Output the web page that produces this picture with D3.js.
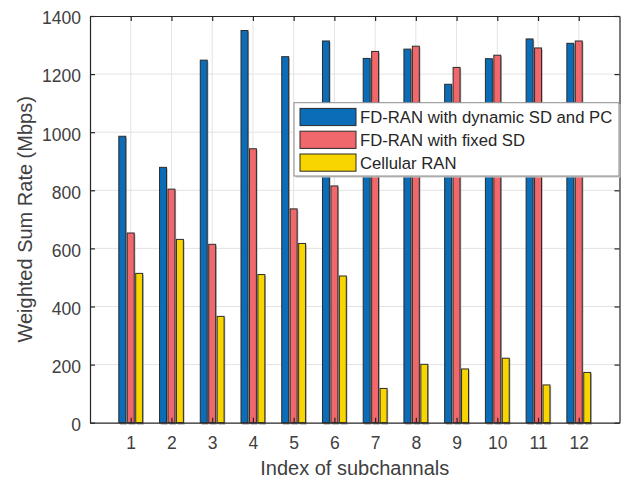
<!DOCTYPE html>
<html>
<head>
<meta charset="utf-8">
<script src="https://cdn.jsdelivr.net/npm/d3@7/dist/d3.min.js"></script>
<style>
  html, body { margin: 0; padding: 0; background: #fff; }
  svg { display: block; font-family: "Liberation Sans", Arial, sans-serif; }
</style>
</head>
<body>
<div id="chart"></div>
<script>
// data
const subchannels = [1, 2, 3, 4, 5, 6, 7, 8, 9, 10, 11, 12];
const seriesNames = ["FD-RAN with dynamic SD and PC", "FD-RAN with fixed SD", "Cellular RAN"];
const dynamicSdPc = [986, 879, 1248, 1350, 1260, 1314, 1254, 1286, 1165, 1253, 1321, 1306];
const fixedSd = [653, 804, 614, 943, 736, 815, 1278, 1296, 1223, 1265, 1290, 1314];
const cellular = [514, 631, 366, 510, 617, 505, 118, 201, 185, 222, 130, 173];
const yTicks = [0, 200, 400, 600, 800, 1000, 1200, 1400];

const colors = ["#0b6db7", "#f0686b", "#f9d500"];
const allSeries = [dynamicSdPc, fixedSd, cellular];

const width = 624, height = 481;
const margin = { top: 16, right: 4.5, bottom: 58.3, left: 90 };
const innerW = width - margin.left - margin.right;
const innerH = height - margin.top - margin.bottom;

const svg = d3.select("#chart").append("svg")
    .attr("width", width)
    .attr("height", height);

const g = svg.append("g").attr("transform", `translate(${margin.left},${margin.top})`);

const x = d3.scaleLinear().domain([0, 13]).range([0, innerW]);
const y = d3.scaleLinear().domain([0, 1400]).range([innerH, 0]);
const offset = d3.scaleBand().domain(d3.range(3)).range([-0.33, 0.33]).padding(0.18);

const textColor = "#404040";

// grid
g.append("g").selectAll("line.gy")
    .data(yTicks.slice(1, -1))
    .enter().append("line")
    .attr("x1", 0).attr("x2", innerW)
    .attr("y1", d => y(d)).attr("y2", d => y(d))
    .attr("stroke", "#e3e3e3");
g.append("g").selectAll("line.gx")
    .data(subchannels)
    .enter().append("line")
    .attr("x1", d => x(d)).attr("x2", d => x(d))
    .attr("y1", 0).attr("y2", innerH)
    .attr("stroke", "#e3e3e3");

// bars
const bw = x(offset.bandwidth()) - x(0);
allSeries.forEach((vals, i) => {
    const layer = g.append("g");
    const rows = vals.map((v, k) => ({ s: subchannels[k], v }));
    layer.selectAll("rect.shadow")
        .data(rows)
        .enter().append("rect")
        .attr("x", d => x(d.s + offset(i)) + 1.2)
        .attr("y", d => y(d.v) + 1.2)
        .attr("width", bw)
        .attr("height", d => innerH - y(d.v) + 0.8)
        .attr("fill", "#9a9a9a")
        .attr("opacity", 0.75);
    layer.selectAll("rect.bar")
        .data(rows)
        .enter().append("rect")
        .attr("x", d => x(d.s + offset(i)))
        .attr("y", d => y(d.v))
        .attr("width", bw)
        .attr("height", d => innerH - y(d.v))
        .attr("fill", colors[i])
        .attr("stroke", "#2b2b2b")
        .attr("stroke-width", 1);
});

// axes
const tickLen = 5;
const axisBottom = d3.axisBottom(x).tickValues(subchannels).tickSizeInner(-tickLen).tickSizeOuter(0).tickPadding(14);
const axisTop = d3.axisTop(x).tickValues(subchannels).tickSizeInner(-tickLen).tickSizeOuter(0).tickFormat("");
const axisLeft = d3.axisLeft(y).tickValues(yTicks).tickFormat(d3.format("d"))
    .tickSizeInner(-tickLen).tickSizeOuter(0).tickPadding(9);
const axisRight = d3.axisRight(y).tickValues(yTicks).tickSizeInner(-tickLen).tickSizeOuter(0).tickFormat("");

function styleAxis(sel) {
    sel.select(".domain").attr("stroke", "#262626").attr("stroke-width", 1.2);
    sel.selectAll(".tick line").attr("stroke", "#262626").attr("stroke-width", 1.2);
    sel.selectAll(".tick text").attr("fill", textColor).attr("font-size", 17.5);
}

g.append("g").attr("transform", `translate(0,${innerH})`).call(axisBottom).call(styleAxis)
    .selectAll(".tick text").attr("dy", "0.71em");
g.append("g").call(axisTop).call(styleAxis);
g.append("g").call(axisLeft).call(styleAxis)
    .selectAll(".tick text").attr("dy", "0.45em");
g.append("g").attr("transform", `translate(${innerW},0)`).call(axisRight).call(styleAxis);

// axis labels
svg.append("text")
    .attr("x", margin.left + innerW / 2)
    .attr("y", 475)
    .attr("text-anchor", "middle")
    .attr("fill", textColor)
    .attr("font-size", 20)
    .text("Index of subchannals");

svg.append("text")
    .attr("transform", `translate(31.5,${margin.top + innerH / 2}) rotate(-90)`)
    .attr("text-anchor", "middle")
    .attr("fill", textColor)
    .attr("font-size", 20)
    .text("Weighted Sum Rate (Mbps)");

// legend
const legend = svg.append("g").attr("transform", "translate(294,102.7)");
legend.append("rect")
    .attr("x", 1.5).attr("y", 1.5)
    .attr("width", 325).attr("height", 73.3)
    .attr("fill", "#c8c8c8");
legend.append("rect")
    .attr("width", 325).attr("height", 73.3)
    .attr("fill", "#fff")
    .attr("stroke", "#8c8c8c")
    .attr("stroke-width", 1);
const items = legend.selectAll("g.item")
    .data(seriesNames)
    .enter().append("g")
    .attr("transform", (d, i) => `translate(0,${14.3 + i * 22.8})`);
items.append("rect")
    .attr("x", 6).attr("y", -8.6)
    .attr("width", 56).attr("height", 17.2)
    .attr("fill", (d, i) => colors[i])
    .attr("stroke", "#2b2b2b");
items.append("text")
    .attr("x", 66)
    .attr("y", 6)
    .attr("fill", "#262626")
    .attr("font-size", 16.7)
    .text(d => d);
</script>
</body>
</html>
